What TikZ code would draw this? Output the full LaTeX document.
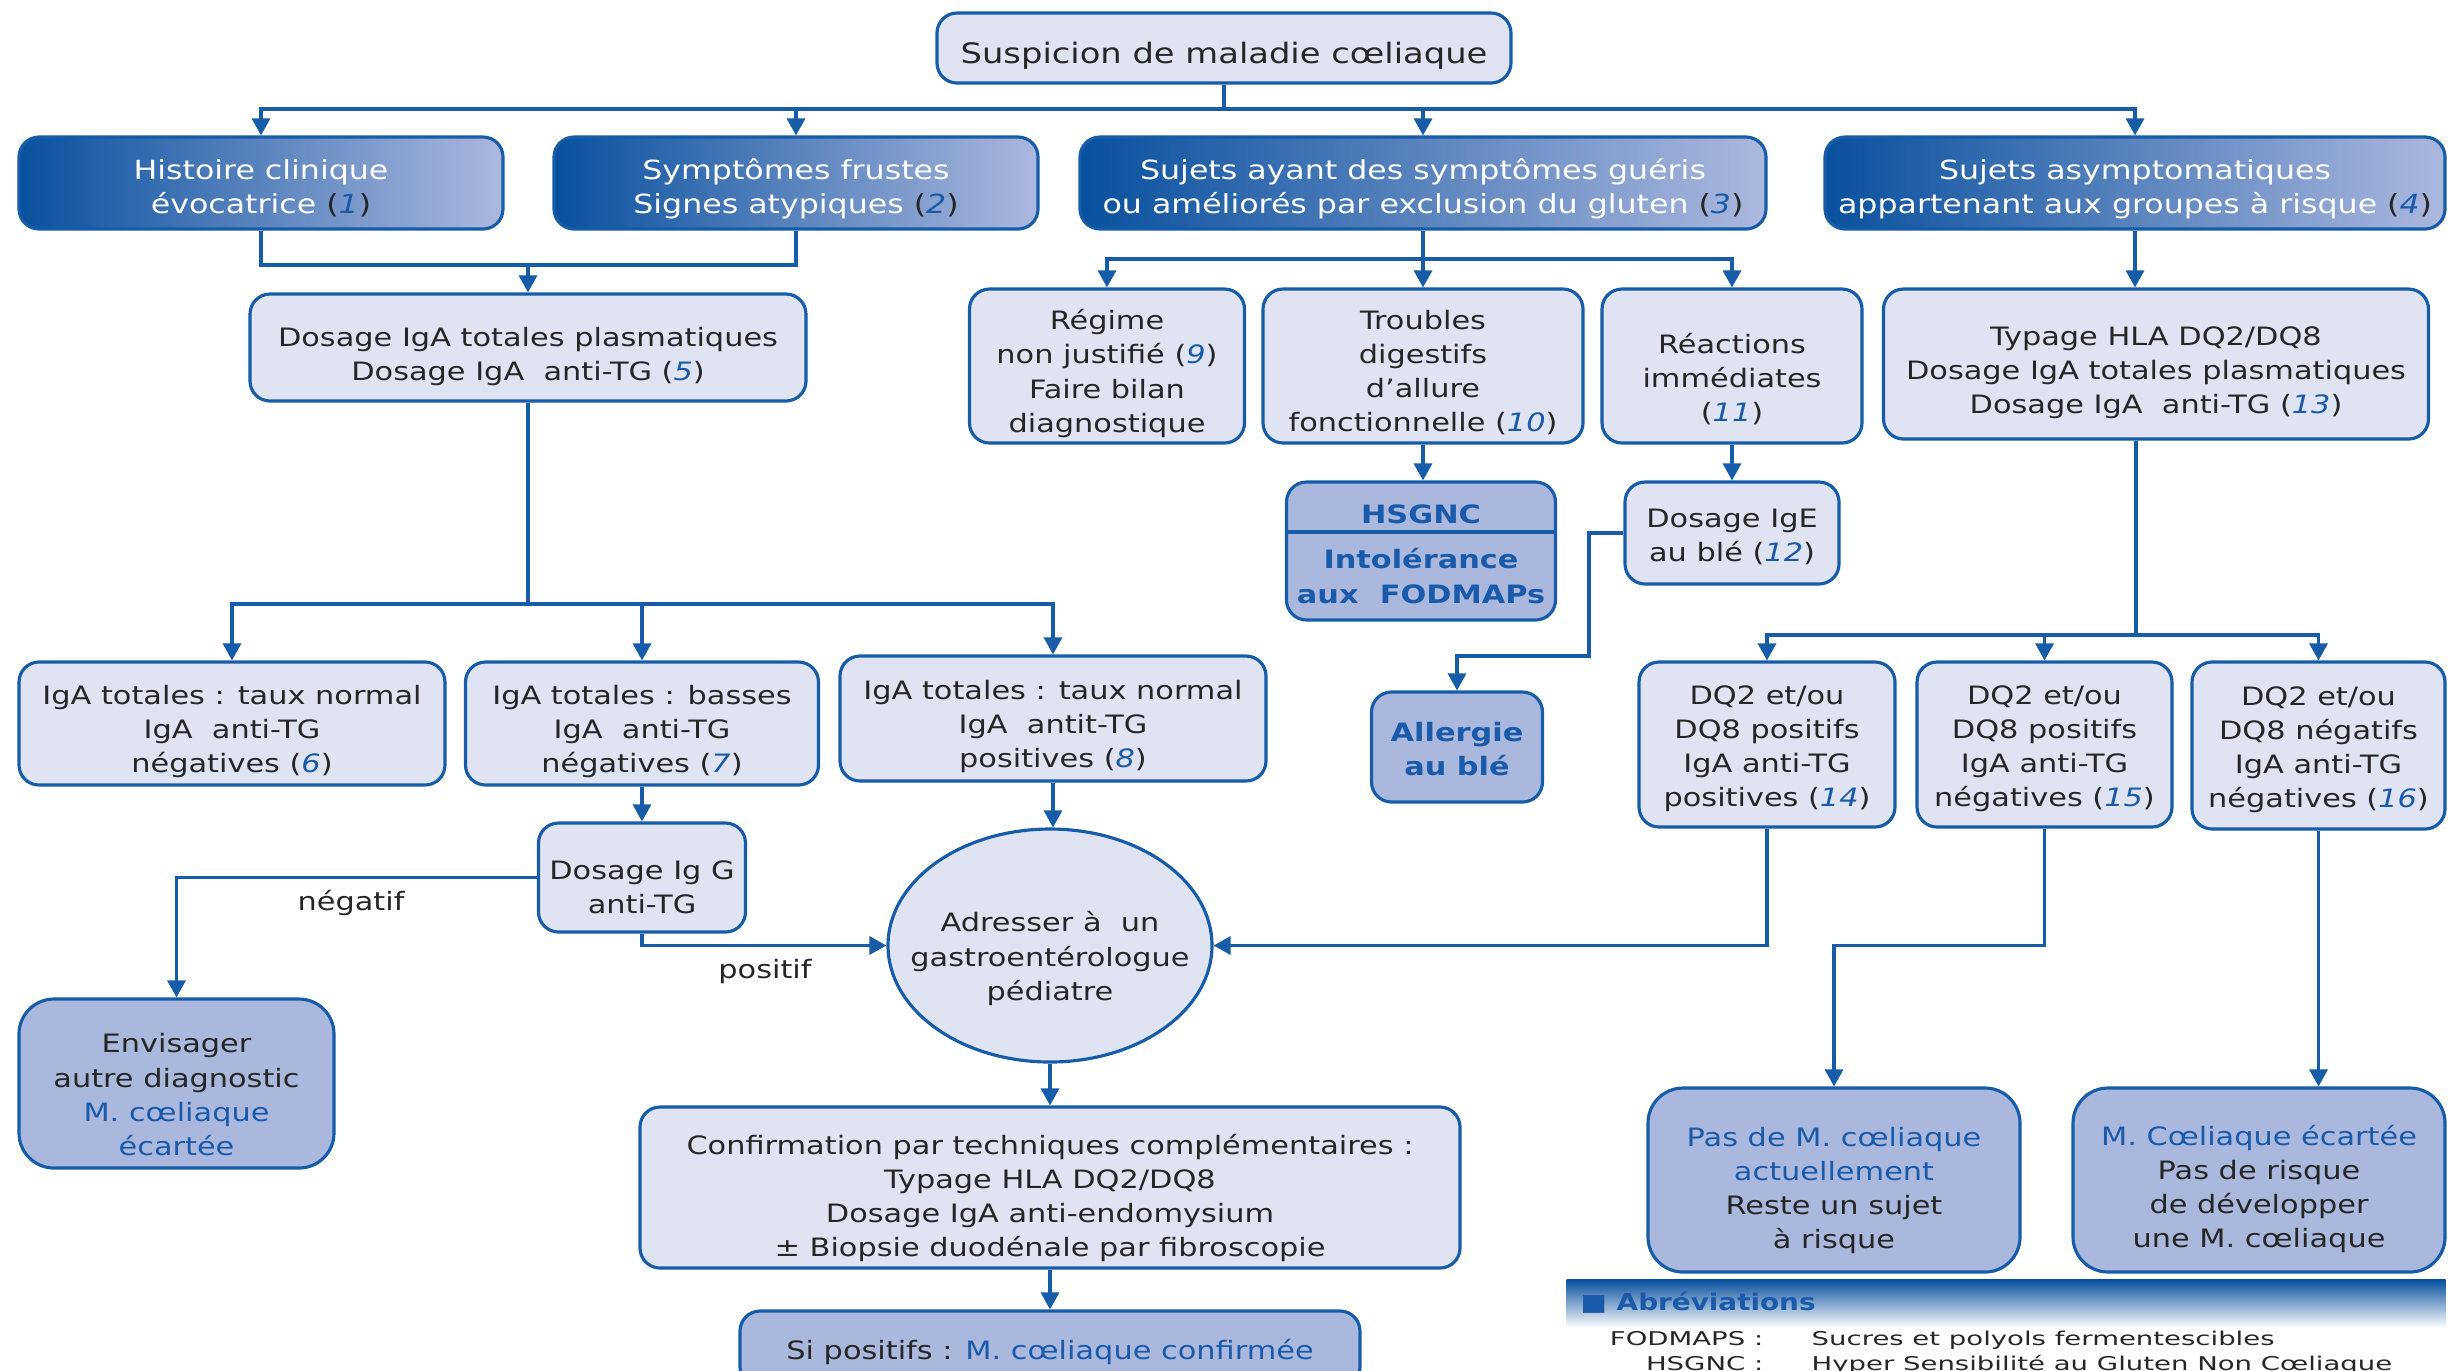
\documentclass[tikz,border=0pt]{standalone}
\usepackage{fontspec}
\setmainfont{DejaVu Sans}[FakeStretch=1.2]
\newfontfamily\abbrfont{DejaVu Sans}[FakeStretch=1.45]
\usetikzlibrary{positioning,shapes.geometric,arrows.meta}

\definecolor{lineBlue}{RGB}{22,92,168}
\definecolor{boxLight}{RGB}{223,227,242}
\definecolor{boxMid}{RGB}{170,184,222}
\definecolor{headDark}{RGB}{8,80,158}
\definecolor{headLight}{RGB}{172,184,222}
\definecolor{textDark}{RGB}{38,38,38}
\definecolor{numBlue}{RGB}{26,90,170}

\newcommand{\diagfont}{\fontsize{7.2}{9.7}\selectfont}
\newcommand{\cnum}[1]{({\color{numBlue}\itshape #1})}
\newcommand{\hnum}[1]{{\color{textDark}(}{\color{numBlue}\itshape #1}{\color{textDark})}}
\newcommand{\bluetext}[1]{{\color{numBlue}#1}}

\begin{document}
\begin{tikzpicture}[
        font=\diagfont,
        lightNode/.style={rectangle, rounded corners=2mm, draw=lineBlue, line width=0.9pt, fill=boxLight, text=textDark, align=center, inner sep=1pt, text depth=0pt},
        midNode/.style={lightNode, fill=boxMid},
        headNode/.style={rectangle, rounded corners=2mm, draw=lineBlue, line width=0.9pt, left color=headDark, right color=headLight, text=white, align=center, inner sep=1pt, text depth=0pt, text height=17.6pt, font=\fontsize{7.5}{9.7}\selectfont},
        ovalNode/.style={ellipse, draw=lineBlue, line width=0.9pt, fill=boxLight, inner sep=0pt},
        plainText/.style={text=textDark, align=center, inner sep=0pt},
        abbrText/.style={text=textDark, inner sep=0pt, font=\abbrfont\fontsize{5.4}{6.5}\selectfont},
        link/.style={draw=lineBlue, line width=0.9pt},
        arrowLink/.style={link, -{Triangle[length=1.7mm, width=1.8mm]}}
    ]
        \useasboundingbox (0,0) rectangle (24.48,-13.70);

        % Top node
        \node[lightNode, font=\fontsize{8}{9.7}\selectfont, text height=8.8pt, minimum width=5.74cm, minimum height=0.70cm] (top) at (12.24,-0.48) {Suspicion de maladie cœliaque};

        % Entry groups
        \node[headNode, minimum width=4.84cm, minimum height=0.92cm] (clinic) at (2.61,-1.83) {Histoire clinique\\évocatrice \hnum{1}};
        \node[headNode, minimum width=4.84cm, minimum height=0.92cm] (frustes) at (7.96,-1.83) {Symptômes frustes\\Signes atypiques \hnum{2}};
        \node[headNode, minimum width=6.86cm, minimum height=0.92cm] (gueris) at (14.23,-1.83) {Sujets ayant des symptômes guéris\\ou améliorés par exclusion du gluten \hnum{3}};
        \node[headNode, minimum width=6.20cm, minimum height=0.92cm] (risque) at (21.35,-1.83) {Sujets asymptomatiques\\appartenant aux groupes à risque \hnum{4}};

        % Second row
        \node[lightNode, text height=18.7pt, minimum width=5.56cm, minimum height=1.07cm] (dosIgA) at (5.28,-3.475) {Dosage IgA totales plasmatiques\\Dosage IgA~ anti-TG \cnum{5}};
        \node[lightNode, text height=37.6pt, minimum width=2.75cm, minimum height=1.54cm] (regime) at (11.07,-3.66) {Régime\\non justifié \cnum{9}\\Faire bilan\\diagnostique};
        \node[lightNode, text height=37.3pt, minimum width=3.20cm, minimum height=1.54cm] (troubles) at (14.23,-3.66) {Troubles\\digestifs\\d’allure\\fonctionnelle \cnum{10}};
        \node[lightNode, text height=31.4pt, minimum width=2.60cm, minimum height=1.54cm] (reactions) at (17.32,-3.66) {Réactions\\immédiates\\\cnum{11}};
        \node[lightNode, text height=28.4pt, minimum width=5.45cm, minimum height=1.50cm] (typage) at (21.56,-3.64) {Typage HLA DQ2/DQ8\\Dosage IgA totales plasmatiques\\Dosage IgA~ anti-TG \cnum{13}};

        % After gluten exclusion
        \node[midNode, text=numBlue, font=\diagfont\bfseries, text height=29.6pt, minimum width=2.69cm, minimum height=1.38cm] (hsgnc) at (14.21,-5.51) {HSGNC\\[0.11cm]Intolérance\\aux~ FODMAPs};
        \node[lightNode, text height=16.1pt, minimum width=2.14cm, minimum height=1.02cm] (ige) at (17.32,-5.33) {Dosage IgE\\au blé \cnum{12}};
        \node[midNode, text=numBlue, font=\diagfont\bfseries, text height=16.1pt, minimum width=1.71cm, minimum height=1.10cm] (allergie) at (14.57,-7.47) {Allergie\\au blé};

        % IgA results
        \node[lightNode, text height=28pt, minimum width=4.26cm, minimum height=1.23cm] (normNeg) at (2.32,-7.235) {IgA totales : taux normal\\IgA~ anti-TG\\négatives \cnum{6}};
        \node[lightNode, text height=28pt, minimum width=3.53cm, minimum height=1.23cm] (basNeg) at (6.42,-7.235) {IgA totales : basses\\IgA~ anti-TG\\négatives \cnum{7}};
        \node[lightNode, text height=28pt, minimum width=4.26cm, minimum height=1.25cm] (normPos) at (10.53,-7.185) {IgA totales : taux normal\\IgA~ antit-TG\\positives \cnum{8}};
        \node[lightNode, text height=20.5pt, minimum width=2.07cm, minimum height=1.09cm] (igg) at (6.42,-8.775) {Dosage Ig G\\anti-TG};
        \node[midNode, rounded corners=3.5mm, text height=40.8pt, minimum width=3.15cm, minimum height=1.69cm] (autre) at (1.765,-10.835) {Envisager\\autre diagnostic\\\bluetext{M. cœliaque}\\\bluetext{écartée}};

        % Referral and confirmation
        \node[ovalNode, minimum width=3.24cm, minimum height=2.33cm] (gastro) at (10.50,-9.455) {};
        \node[plainText, yshift=-0.13cm] (gastroTxt) at (gastro) {Adresser à~ un\\gastroentérologue\\pédiatre};
        \node[lightNode, text height=39.5pt, minimum width=8.20cm, minimum height=1.61cm] (confirm) at (10.50,-11.875) {Confirmation par techniques complémentaires :\\Typage HLA DQ2/DQ8\\Dosage IgA anti-endomysium\\± Biopsie duodénale par fibroscopie};
        \node[midNode, minimum width=6.20cm, minimum height=0.76cm] (confirme) at (10.50,-13.49) {Si positifs : \bluetext{M. cœliaque confirmée}};

        % HLA results
        \node[lightNode, text height=35.5pt, minimum width=2.56cm, minimum height=1.65cm] (dqPos) at (17.67,-7.445) {DQ2 et/ou\\DQ8 positifs\\IgA anti-TG\\positives \cnum{14}};
        \node[lightNode, text height=35.5pt, minimum width=2.55cm, minimum height=1.65cm] (dqMix) at (20.445,-7.445) {DQ2 et/ou\\DQ8 positifs\\IgA anti-TG\\négatives \cnum{15}};
        \node[lightNode, text height=35.5pt, minimum width=2.53cm, minimum height=1.67cm] (dqNeg) at (23.185,-7.455) {DQ2 et/ou\\DQ8 négatifs\\IgA anti-TG\\négatives \cnum{16}};
        \node[midNode, rounded corners=3.5mm, text height=39pt, minimum width=3.72cm, minimum height=1.84cm] (pasMC) at (18.34,-11.80) {\bluetext{Pas de M. cœliaque}\\\bluetext{actuellement}\\Reste un sujet\\à risque};
        \node[midNode, rounded corners=3.5mm, text height=38.4pt, minimum width=3.72cm, minimum height=1.84cm] (ecartee) at (22.59,-11.80) {\bluetext{M. Cœliaque écartée}\\Pas de risque\\de développer\\une M. cœliaque};

        % Edge labels
        \node[plainText] (negLbl) at (3.51,-9.03) {négatif};
        \node[plainText] (posLbl) at (7.65,-9.71) {positif};

        % Abbreviations
        \node[rectangle, anchor=north west, minimum width=8.79cm, minimum height=0.48cm, inner sep=0pt, top color=headDark, middle color=headLight!55, bottom color=white] (abbrev) at (15.66,-12.79) {};
        \node[plainText, anchor=west, text=numBlue, font=\fontsize{6.6}{8}\selectfont\bfseries] (abbrTitle) at (15.80,-13.03) {{\mdseries ■} Abréviations};
        \node[abbrText, anchor=base east] (fodKey) at (17.64,-13.45) {FODMAPS :};
        \node[abbrText, anchor=base west] (fodVal) at (18.11,-13.45) {Sucres et polyols fermentescibles};
        \node[abbrText, anchor=base east] (hsgKey) at (17.64,-13.70) {HSGNC :};
        \node[abbrText, anchor=base west] (hsgVal) at (18.11,-13.70) {Hyper Sensibilité au Gluten Non Cœliaque};

        % Edges
        \coordinate (topBar) at (12.24,-1.09);
        \draw[link] (top.south) -- (topBar);
        \draw[arrowLink] (topBar) -| (clinic.north);
        \draw[arrowLink] (topBar) -| (frustes.north);
        \draw[arrowLink] (topBar) -| (gueris.north);
        \draw[arrowLink] (topBar) -| (risque.north);

        \coordinate (clinicJoin) at (5.28,-2.65);
        \draw[link] (clinic.south) |- (clinicJoin) -| (frustes.south);
        \draw[arrowLink] (clinicJoin) -- (dosIgA.north);

        \coordinate (guerisBar) at (14.23,-2.59);
        \draw[link] (gueris.south) -- (guerisBar);
        \draw[arrowLink] (guerisBar) -| (regime.north);
        \draw[arrowLink] (guerisBar) -| (troubles.north);
        \draw[arrowLink] (guerisBar) -| (reactions.north);
        \draw[arrowLink] (risque.south) -- (risque.south |- typage.north);

        \draw[arrowLink] (troubles.south) -- (troubles.south |- hsgnc.north);
        \coordinate (hsgncSplit) at (14.21,-5.32);
        \draw[link] (hsgnc.west |- hsgncSplit) -- (hsgnc.east |- hsgncSplit);
        \draw[arrowLink] (reactions.south) -- (ige.north);
        \coordinate (igeBend) at (15.89,-6.56);
        \draw[arrowLink] (ige.west) -| (igeBend) -| (allergie.north);

        \coordinate (dosBar) at (5.28,-6.04);
        \draw[link] (dosIgA.south) -- (dosBar);
        \draw[arrowLink] (dosBar) -| (normNeg.north);
        \draw[arrowLink] (dosBar) -| (basNeg.north);
        \draw[arrowLink] (dosBar) -| (normPos.north);
        \draw[arrowLink] (basNeg.south) -- (igg.north);
        \draw[arrowLink] (igg.west) -| (autre.north);
        \draw[arrowLink] (igg.south) |- (gastro.west);
        \draw[arrowLink] (normPos.south) -- (normPos.south |- gastro.north);
        \draw[arrowLink] (gastro.south) -- (confirm.north);
        \draw[arrowLink] (confirm.south) -- (confirme.north);

        \coordinate (typBar) at (21.36,-6.35);
        \draw[link] (typBar |- typage.south) -- (typBar);
        \draw[arrowLink] (typBar) -| (dqPos.north);
        \draw[arrowLink] (typBar) -| (dqMix.north);
        \draw[arrowLink] (typBar) -| (dqNeg.north);
        \draw[arrowLink] (dqPos.south) |- (gastro.east);
        \coordinate (mixBend) at (18.34,-9.455);
        \draw[arrowLink] (dqMix.south) |- (mixBend) -- (pasMC.north);
        \draw[arrowLink] (dqNeg.south) -- (dqNeg.south |- ecartee.north);
\end{tikzpicture}
\end{document}
